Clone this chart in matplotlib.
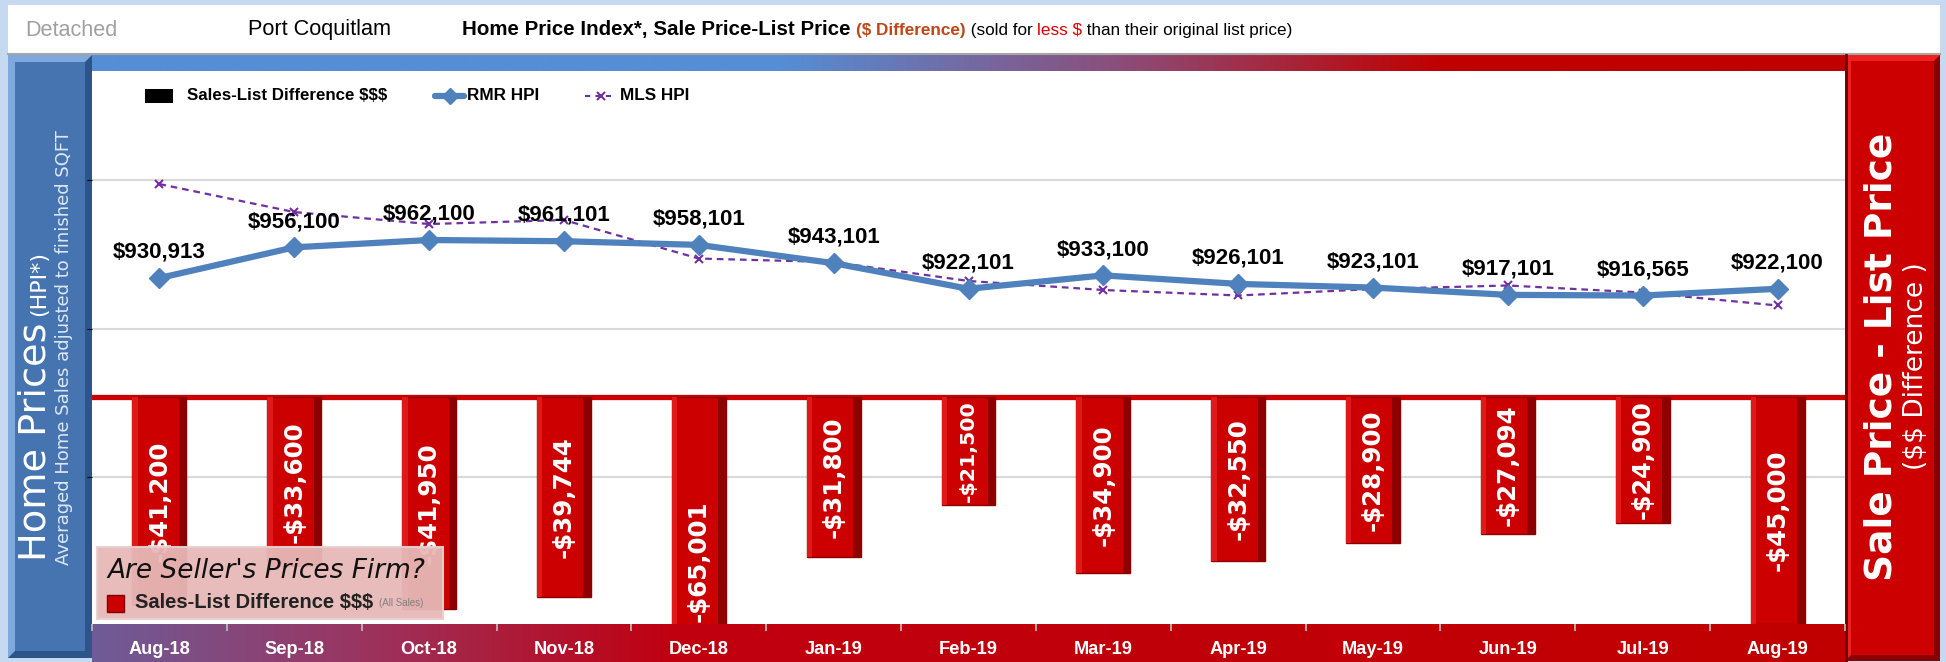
import numpy as np
import matplotlib
matplotlib.use('Agg')
import matplotlib.pyplot as plt
from matplotlib.patches import Rectangle, Polygon
from matplotlib.lines import Line2D
import matplotlib.font_manager as fm
import logging
logging.getLogger('matplotlib.font_manager').setLevel(logging.ERROR)
plt.rcParams['text.parse_math'] = False

# ---------------- data ----------------
months = ['Aug-18', 'Sep-18', 'Oct-18', 'Nov-18', 'Dec-18', 'Jan-19', 'Feb-19',
          'Mar-19', 'Apr-19', 'May-19', 'Jun-19', 'Jul-19', 'Aug-19']
rmr_hpi = [930913, 956100, 962100, 961101, 958101, 943101, 922101,
           933100, 926101, 923101, 917101, 916565, 922100]
mls_hpi = [1008000, 985000, 975200, 978500, 946900, 944000, 928500,
           921100, 916600, 921900, 924800, 919000, 908400]
sales_list_diff = [-41200, -33600, -41950, -39744, -65001, -31800, -21500,
                   -34900, -32550, -28900, -27094, -24900, -45000]

# ---------------- fonts ----------------
try:
    fm.findfont('Liberation Sans Narrow', fallback_to_default=False)
    NARROW = ['Liberation Sans Narrow', 'DejaVu Sans']
    NS = 1.0
except Exception:
    NARROW = ['Liberation Sans', 'DejaVu Sans']
    NS = 0.82
WIDE = ['DejaVu Sans']
ARIAL = ['Liberation Sans', 'DejaVu Sans']

W, H = 1946, 662
fig = plt.figure(figsize=(W / 100, H / 100), dpi=100)

# background layer in pixel coordinates
bg = fig.add_axes([0, 0, 1, 1], zorder=0)
bg.set_xlim(0, W)
bg.set_ylim(H, 0)
bg.axis('off')

bg.add_patch(Rectangle((0, 0), W, H, color='#c6d9f1', lw=0))
bg.add_patch(Rectangle((8, 5), 1932, 48, color='white', lw=0))
bg.plot([8, 1940], [53.5, 53.5], color='#a6a6a6', lw=1.5)


def hgrad(x0, x1, y0, y1, stops, n=800):
    xs = np.linspace(0, 1, n)
    pos = [s[0] for s in stops]
    cols = [matplotlib.colors.to_rgb(s[1]) for s in stops]
    img = np.zeros((1, n, 3))
    for c in range(3):
        img[0, :, c] = np.interp(xs, pos, [cc[c] for cc in cols])
    bg.imshow(img, extent=(x0, x1, y1, y0), aspect='auto',
              interpolation='bilinear', zorder=1)


# top stripe: blue -> red
hgrad(8, 1846, 55, 71, [(0, '#558ed5'), (0.42, '#558ed5'), (0.60, '#8a4f7d'),
                        (0.78, '#c00000'), (1, '#c00000')])
# bottom category band
hgrad(92, 1846, 624, 662, [(0, '#6e5c98'), (0.15, '#9a3561'), (0.33, '#c00010'),
                           (1, '#c00000')])

# left blue panel with bevel
bg.add_patch(Rectangle((8, 55), 84, 603, color='#7fa9dd', lw=0, zorder=2))
bg.add_patch(Polygon([(92, 55), (92, 658), (8, 658), (15, 651), (85, 651), (85, 62)],
                     closed=True, color='#2d5589', lw=0, zorder=2))
bg.add_patch(Rectangle((15, 62), 70, 589, color='#4674b0', lw=0, zorder=2))

# right red panel with bevel
bg.add_patch(Rectangle((1845, 55), 95, 606, color='#f02020', lw=0, zorder=2))
bg.add_patch(Polygon([(1940, 55), (1940, 661), (1845, 661), (1851, 655), (1934, 655), (1934, 61)],
                     closed=True, color='#8a0000', lw=0, zorder=2))
bg.add_patch(Rectangle((1851, 61), 83, 594, color='#cc0000', lw=0, zorder=2))
bg.plot([1845.5, 1845.5], [55, 661], color='#6a0000', lw=2, zorder=3)

# ---------------- main chart ----------------
L, R, T, B = 92, 1845, 71, 624
rect = [L / W, 1 - B / H, (R - L) / W, (B - T) / H]
ax = fig.add_axes(rect, zorder=2)
ax.set_facecolor('white')
x = np.arange(len(months))
ax.set_xlim(-0.5, len(months) - 0.5)
ax.set_ylim(647200, 1100700)
ax.set_yticks([768000, 889500, 1011000])
ax.yaxis.grid(True, color='#d9d9d9', lw=1.5)
ax.tick_params(axis='y', left=False, labelleft=False)
for s in ax.spines.values():
    s.set_visible(False)

ax.plot(x, mls_hpi, color='#7030a0', lw=1.6, ls=(0, (3, 2.2)), marker='x',
        ms=6, mew=1.5, zorder=3)
ax.plot(x, rmr_hpi, color='#4f81bd', lw=4.5, marker='D', ms=10, zorder=4,
        solid_capstyle='round')
for i, v in enumerate(rmr_hpi):
    ax.annotate(f'${v:,.0f}', xy=(i, v), xytext=(0, 11), textcoords='offset points',
                ha='center', va='bottom', fontsize=19.5 * NS, fontweight='bold',
                family=NARROW, color='black', zorder=6)

ax.set_xticks(x)
ax.set_xticklabels(months, color='white', fontweight='bold', family=NARROW,
                   fontsize=16 * NS)
ax.set_xticks(np.arange(len(months) + 1) - 0.5, minor=True)
ax.tick_params(axis='x', which='major', length=0, pad=12)
ax.tick_params(axis='x', which='minor', length=5, color='#bfbfbf', width=1.2,
               direction='out')

# bars on twin axis
axb = ax.twinx()
axb.set_ylim(-45000, 64600)
axb.tick_params(axis='y', right=False, labelright=False)
for s in axb.spines.values():
    s.set_visible(False)
axb.axhline(0, color='#cc0000', lw=3.8, zorder=1)
bw = 0.40
axb.bar(x, sales_list_diff, width=bw, color='#cc0000', edgecolor='#8c0000',
        lw=1.0, zorder=2)
axb.bar(x + bw * 0.43, sales_list_diff, width=bw * 0.14, color='#8e0000', lw=0, zorder=3)
axb.bar(x - bw * 0.45, sales_list_diff, width=bw * 0.10, color='#e01818', lw=0, zorder=3)

px_per_val = (B - T) / (64600 + 45000)
for i, v in enumerate(sales_list_diff):
    bar_px = abs(v) * px_per_val
    em_px = min(24.5, (bar_px - 6) / 5.0)
    fs = em_px * 72 / 100
    axb.text(i, v / 2, f'-${abs(v):,.0f}', rotation=90, ha='center', va='center',
             color='white', fontweight='bold', family=WIDE, fontsize=fs, zorder=5)

# ---------------- overlay (texts, legend, inset) ----------------
ov = fig.add_axes([0, 0, 1, 1], zorder=5)
ov.set_xlim(0, W)
ov.set_ylim(H, 0)
ov.axis('off')
ov.patch.set_alpha(0)

renderer = fig.canvas.get_renderer()


def seq_text(x0, y, pieces):
    xx = x0
    for s, kw in pieces:
        t = ov.text(xx, y, s, ha='left', va='center', **kw)
        bb = t.get_window_extent(renderer)
        xx += bb.width


ov.text(25, 31, 'Detached', ha='left', va='center', color='#a0a0a0',
        fontsize=19 * NS, family=NARROW)
ov.text(248, 30, 'Port Coquitlam', ha='left', va='center', color='black',
        fontsize=19 * NS, family=NARROW)
seq_text(462, 30, [
    ('Home Price Index*, Sale Price-List Price ', dict(fontsize=18 * NS, fontweight='bold', family=NARROW, color='black')),
    ('($ Difference)', dict(fontsize=15 * NS, fontweight='bold', family=NARROW, color='#c0461a')),
    (' (sold for ', dict(fontsize=15 * NS, family=NARROW, color='black')),
    ('less $', dict(fontsize=15 * NS, family=NARROW, color='#e00000')),
    (' than their original list price)', dict(fontsize=15 * NS, family=NARROW, color='black')),
])

# legend
LY = 96
ov.add_patch(Rectangle((145, LY - 7), 28, 14, color='black', lw=0))
ov.text(187, LY, 'Sales-List Difference $$$', ha='left', va='center',
        fontsize=12.2, fontweight='bold', family=ARIAL)
ov.add_line(Line2D([435, 464], [LY, LY], color='#4f81bd', lw=4.5,
                   solid_capstyle='round'))
ov.add_line(Line2D([449.5], [LY], color='#4f81bd', marker='D', ms=8, lw=0))
ov.text(467, LY, 'RMR HPI', ha='left', va='center', fontsize=12.3,
        fontweight='bold', family=ARIAL)
ov.add_line(Line2D([585, 616], [LY, LY], color='#7030a0', lw=1.5, ls=(0, (2.5, 2.5))))
ov.add_line(Line2D([600.5], [LY], color='#7030a0', marker='x', ms=6, mew=1.5, lw=0))
ov.text(620, LY, 'MLS HPI', ha='left', va='center', fontsize=12.3,
        fontweight='bold', family=ARIAL)

# inset box
ov.add_patch(Rectangle((97, 547), 346, 72, facecolor='#e6b9b8', edgecolor='#e8d0d0',
                       lw=1.5, alpha=0.95))
ov.text(107, 571, "Are Seller's Prices Firm?", ha='left', va='center',
        fontsize=19, style='italic', family=WIDE, color='#111111')
ov.add_patch(Rectangle((107, 595), 17, 17, facecolor='#cc0000', edgecolor='#800000', lw=1))
seq_text(135, 603, [
    ('Sales-List Difference $$$ ', dict(fontsize=14.5, fontweight='bold', family=ARIAL, color='#222222')),
    ('(All Sales)', dict(fontsize=7, family=ARIAL, color='#808080')),
])

# side panel texts
t_hp = ov.text(54, 561, 'Home Prices', rotation=90, ha='right', va='bottom',
               color='white', fontsize=27.5, family=WIDE)
bb = t_hp.get_window_extent(renderer)
top_px = H - bb.y1
ov.text(49, top_px - 6, '(HPI*)', rotation=90, ha='right', va='bottom',
        color='white', fontsize=16, family=WIDE)
ov.text(64, 348, 'Averaged Home Sales adjusted to finished SQFT', rotation=90,
        ha='center', va='center', color='#dde8f5', fontsize=13, family=WIDE)

ov.text(1882, 357, 'Sale Price - List Price', rotation=90, ha='center', va='center',
        color='white', fontsize=27, fontweight='bold', family=WIDE)
ov.text(1916, 366, '($$ Difference )', rotation=90, ha='center', va='center',
        color='white', fontsize=19, family=WIDE)

fig.savefig('out.png', dpi=100)
